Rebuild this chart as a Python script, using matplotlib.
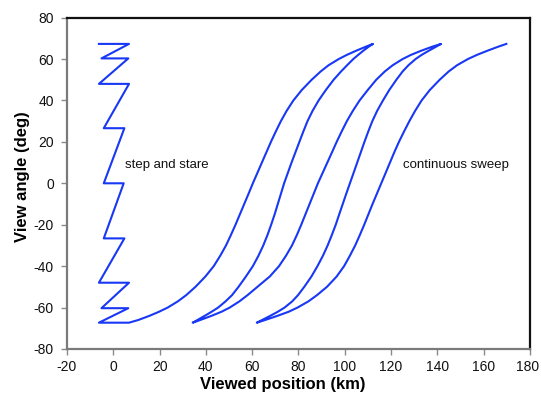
import matplotlib
matplotlib.use("Agg")
import matplotlib.pyplot as plt
from matplotlib.transforms import ScaledTranslation

plt.rcParams["font.family"] = ["Liberation Sans", "DejaVu Sans"]
plt.rcParams["axes.unicode_minus"] = False

# Step-and-stare pattern: (position km, view angle deg)
stare_x = [-6.2, 6.8, -5.1, 6.5, -6.2, 6.8, -4.1, 4.8, -4.1, 4.5,
           -4.1, 4.8, -6.2, 6.8, -5.1, 6.5, -6.2, 6.8]
stare_y = [67.3, 67.3, 60.3, 60.3, 48.0, 48.0, 26.6, 26.6, 0.0, 0.0,
           -26.6, -26.6, -48.0, -48.0, -60.3, -60.3, -67.3, -67.3]

# Continuous sweep: view angles sampled along each pass
angle_up = [-67.3, -66, -64, -62, -60, -57, -54, -50, -45, -40, -35, -30, -25, -20, -15, -10, -5, 0,
            5, 10, 15, 20, 25, 30, 35, 40, 45, 50, 54, 57, 60, 62, 64, 66, 67.3]
angle_down = angle_up[::-1]

# Ground position of each pass at those angles (km)
sweep1_x = [6.8, 10.8, 15.6, 19.8, 23.5, 27.9, 31.5, 35.5, 39.8, 43.4, 46.2, 48.7, 50.8, 52.8,
            54.7, 56.6, 58.45, 60.3, 62.25, 64.2, 66.15, 68.1, 70.2, 72.4, 74.9, 77.8,
            81.4, 85.7, 89.6, 93.0, 97.4, 100.9, 104.9, 109.2, 112.2]
sweep2_x = [112.2, 110.4, 108.0, 105.8, 103.7, 101.0, 98.4, 95.2, 91.8, 88.7, 86.1, 83.9, 82.1, 80.4,
            78.7, 77.0, 75.4, 73.8, 72.45, 71.1, 69.7, 68.2, 66.6, 64.8, 62.7, 60.3,
            57.3, 54.1, 51.3, 48.5, 45.3, 42.5, 39.5, 36.4, 34.3]
sweep3_x = [34.3, 37.6, 42.4, 46.8, 50.3, 54.5, 58.0, 62.3, 67.6, 71.6, 74.6, 77.2, 79.3, 81.2,
            83.0, 84.8, 86.6, 88.4, 90.45, 92.5, 94.5, 96.5, 98.65, 100.9, 103.5, 106.4,
            109.9, 113.6, 117.3, 120.7, 125.0, 128.6, 133.0, 137.9, 141.6]
sweep4_x = [141.6, 139.5, 136.3, 133.2, 130.6, 127.5, 125.0, 122.3, 119.2, 116.5, 114.0, 111.9, 110.15, 108.5,
            106.95, 105.4, 103.8, 102.2, 100.65, 99.1, 97.6, 96.1, 94.4, 92.6, 90.55, 88.2,
            85.6, 82.5, 79.8, 77.3, 74.0, 71.1, 67.8, 64.3, 62.0]
sweep5_x = [62.0, 65.6, 70.9, 75.8, 79.6, 84.3, 88.0, 92.3, 96.5, 99.7, 102.2, 104.5, 106.5, 108.4,
            110.2, 112.0, 113.9, 115.8, 117.65, 119.5, 121.4, 123.4, 125.6, 127.9, 130.4, 133.2,
            136.7, 141.0, 144.9, 148.5, 153.2, 157.1, 161.6, 166.4, 169.8]

x_ticks = [-20, 0, 20, 40, 60, 80, 100, 120, 140, 160, 180]
y_ticks = [-80, -60, -40, -20, 0, 20, 40, 60, 80]

line_color = "#1838f5"

fig = plt.figure(figsize=(5.41, 4.01), dpi=100)
ax = fig.add_axes([0.1238, 0.1297, 0.8558, 0.8264])

# One continuous trace: step-and-stare, then the five sweep passes
path_x = list(stare_x)
path_y = list(stare_y)
for xs, angs in [(sweep1_x, angle_up), (sweep2_x, angle_down), (sweep3_x, angle_up),
                 (sweep4_x, angle_down), (sweep5_x, angle_up)]:
    path_x += xs[1:]
    path_y += angs[1:]
ax.plot(path_x, path_y, color=line_color, lw=1.5, solid_joinstyle="round")

ax.text(5.0, 9.0, "step and stare", fontsize=9.5, va="center", ha="left", color="#111111")
ax.text(125.0, 9.0, "continuous sweep", fontsize=9.5, va="center", ha="left", color="#111111")

ax.set_xlim(-20, 180)
ax.set_ylim(-80, 80)
ax.set_xticks(x_ticks)
ax.set_yticks(y_ticks)

for side in ("left", "bottom"):
    ax.spines[side].set_color("#7a7a7a")
    ax.spines[side].set_linewidth(1.6)
for side in ("top", "right"):
    ax.spines[side].set_color("#111111")
    ax.spines[side].set_linewidth(1.6)

ax.tick_params(axis="both", direction="out", length=4, width=1.0, color="#8a8a8a",
               labelsize=10, labelcolor="#111111")
ax.tick_params(axis="y", pad=5.5)
ax.tick_params(axis="x", pad=4)

# keep the last x label inside the canvas
last = ax.xaxis.get_majorticklabels()[-1]
last.set_transform(last.get_transform() + ScaledTranslation(-2 / 72, 0, fig.dpi_scale_trans))

ax.set_xlabel("Viewed position (km)", fontsize=12, fontweight="bold")
ax.set_ylabel("View angle (deg)", fontsize=12, fontweight="bold")
ax.xaxis.set_label_coords(0.465, -0.085)
ax.yaxis.set_label_coords(-0.08, 0.52)

fig.savefig("out.png", dpi=100)
